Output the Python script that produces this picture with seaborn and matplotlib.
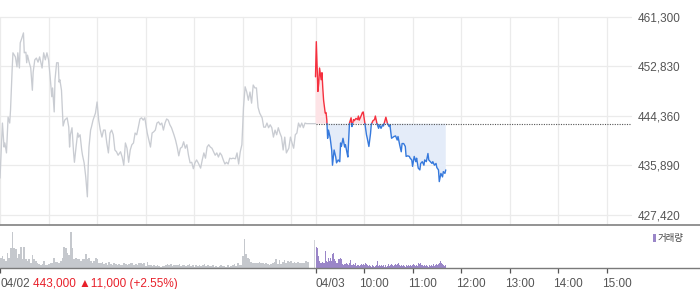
import numpy as np
import pandas as pd
import matplotlib
matplotlib.use("Agg")
import matplotlib.pyplot as plt
import matplotlib.transforms as mtransforms
from matplotlib.lines import Line2D
from matplotlib.patches import Rectangle
import seaborn as sns

# ---------------- data ----------------
PREV_CLOSE = 443000
Y_TICKS = [461300, 452830, 444360, 435890, 427420]
DATE_PREV = "04/02"
DATE_TODAY = "04/03"
PREV_SUMMARY = "443,000 \u25b211,000 (+2.55%)"
HOUR_LABELS = ["10:00", "11:00", "12:00", "13:00", "14:00", "15:00"]
VOLUME_LABEL = "거래량"

# previous day (04/02): minutes after 09:00 and price
prev_minutes = [0, 3, 5, 6, 8, 10, 12, 13, 15, 16, 19, 21, 22, 24, 25, 27, 29, 30, 32, 33,
                34, 36, 38, 40, 41, 43, 45, 47, 49, 52, 54, 56, 58, 60, 62, 64, 65, 67, 68, 70,
                72, 73, 74, 76, 78, 80, 83, 85, 86, 87, 89, 91, 92, 94, 96, 97, 99, 101, 102, 104,
                106, 108, 109, 110, 112, 113, 115, 118, 120, 122, 124, 126, 128,
                130, 132, 134, 136, 138, 140, 142, 144, 146, 149, 151, 153, 155, 157, 159, 161,
                163, 165, 167, 169, 171, 173, 175, 177, 179, 182, 184, 186, 188, 190, 192, 194,
                196, 198, 200, 202, 204, 206, 208, 210, 212, 215, 217, 219, 221, 223, 225, 227,
                229, 231, 233, 235, 237, 239, 241, 243, 245, 248, 250, 252, 254, 256, 258,
                260, 262, 264, 266, 268, 270, 272, 274, 276, 278, 280, 282, 284, 286, 288, 291,
                293, 295, 297, 299, 301, 303, 305, 307, 309, 311, 313, 315, 317, 319, 321, 324,
                326, 328, 330, 332, 334, 336, 338, 340, 342, 344, 346, 348, 350, 352, 354, 357,
                359, 361, 363, 365, 367, 369, 371, 373, 375, 377, 379, 381, 383, 385, 387, 390]
prev_prices = [433700, 443100, 439000, 439700, 438000, 444100, 443100, 445300, 452200, 455100,
               454400, 452700, 455100, 452500, 456800, 457600, 458500, 455100, 455200, 453400,
               454700, 453500, 452500, 448700, 451800, 453900, 454200, 453500, 454400, 452500,
               455100, 453900, 455100, 453900, 451000, 447600, 449100, 445000, 450500, 453400,
               453400, 450100, 450500, 448700, 442600, 443600, 444000, 442400, 439000, 441100,
               442300, 438000, 436400, 439000, 441400, 440700, 441100, 438500, 437600, 436300,
               433900, 430500, 435600, 439000, 441900, 442400, 443600, 444800, 446700, 443600,
               441900, 440700, 441900,
               441900, 439700, 438000, 441400, 441900, 441100, 438500, 438200, 437600, 438200,
               437300, 435900, 439700, 438800, 436400, 438500, 439400, 439700, 441400, 441100,
               442400, 443800, 444000, 443600, 444000, 441400, 440200, 439000, 441400, 441600,
               441900, 443100, 443300, 442800, 443100, 441900, 443100, 443800, 443600, 442800,
               442300, 441100, 440200, 439000, 437500, 438800, 439000, 439900, 438800, 439400,
               437600, 436300, 436400, 435300, 436300, 436800, 436300, 435400, 436800, 438000,
               437100, 439000, 439400,
               439000, 438800, 438200, 437600, 438000, 437300, 438000, 437600, 436800, 436100,
               436400, 436100, 437100, 437000, 437100, 437000, 438000, 436100, 438200, 439400,
               445800, 449300, 448400, 447000, 448400, 446500, 449600, 449100, 449100, 445800,
               444800, 444000, 442400, 442400, 443100, 442300, 442800, 442300, 440700, 441900,
               441100, 442300, 441400, 440700, 438500, 440700, 438000, 438800, 440700, 439700,
               438800, 441100, 441400, 443100, 442400, 443100, 442300, 443100, 443000, 443000,
               443000, 443000, 443000, 443000]

# today (04/03): minutes after 09:00 and price
today_minutes = [0, 1, 3, 4, 5, 7, 8, 9, 10, 12, 13, 14, 15, 16, 18, 20, 21, 23, 25, 26,
                 28, 30, 31, 32, 34, 36, 37, 39, 40, 42, 44, 45, 47, 48, 50, 52, 53, 54, 56, 58,
                 59, 61, 63, 64, 66, 68, 69, 71, 73, 74, 76, 78, 79, 81, 83, 84, 86, 87, 89, 91,
                 92, 94, 96, 97, 99, 101, 102, 104, 106, 107, 109, 111, 112, 114, 116, 117, 119, 120, 122, 124,
                 125, 127, 129, 130, 132, 134, 135, 137, 139, 140, 142, 144, 145, 147, 149, 150, 152, 153, 155, 157,
                 158, 160, 161]
today_prices = [451000, 457000, 448500, 449900, 452500, 450500, 451700, 449100, 447000, 444800,
                444900, 443600, 440500, 441900, 440700, 438500, 435900, 438500, 437300, 436300,
                436800, 436500, 439700, 439100, 440500, 439000, 439400, 438000, 437300, 443100,
                444000, 442500, 443700, 443500, 443900, 443700, 444300, 443600, 444200, 444900,
                445000, 443100, 441100, 440500, 439100, 441300, 442900, 443500, 443700, 444300,
                443000, 442200, 442800, 442200, 442800, 442600, 443600, 444100, 443000, 442500,
                442800, 440500, 440700, 440800, 440900, 440200, 440800, 439400, 438200, 439600,
                439600, 439100, 437400, 437500, 437400, 437100, 436800, 435700, 437400, 436500,
                437100, 435400, 435100, 436200, 436500, 435900, 436800, 436500, 437900, 436800,
                436500, 436200, 436500, 435900, 436200, 435500, 435100, 433100, 434500, 433900,
                434800, 434500, 435100]

# volume (thousand shares), previous day 09:00-15:19 continuous session
prev_volume = [10.7, 12, 9, 7, 15.7, 10.7, 20.7, 36, 20.7, 19,
               10.7, 14, 21.7, 9, 21.7, 9, 7.3, 9, 5.7, 13,
               9.7, 7.3, 5, 4, 3, 4, 7.3, 3, 3, 4,
               5, 5.7, 10.7, 6.3, 6.3, 5.7, 7.3, 10.7, 21.7, 20.7,
               15.7, 13, 36, 20.7, 9, 10.7, 9.7, 9, 7.3, 9.7,
               9, 14, 9, 10.7, 7.3, 5.7, 7.3, 10, 9, 5.7,
               5, 6.3, 4, 5.7, 3, 6.3, 4, 3, 5, 4,
               3, 4, 3, 3, 5, 4, 3, 4, 5, 5.7,
               3, 4, 3, 5, 5.7, 4, 5, 2.3, 6.3, 3,
               3, 2.3, 3, 2.3, 3, 2.3,
               1.7, 2.3, 2.3, 3, 4.7, 3, 4, 2.3, 3, 3,
               3, 4.7, 2.3, 3, 3, 2.3, 3, 4, 2.3, 3,
               1.7, 3, 2.3, 3, 2.3, 3, 4, 2.3, 3, 2.3,
               2.3, 3, 1.7, 2.3, 1.7, 2.3, 3, 2.3, 2.3, 1.7,
               3, 1.7, 2.3, 3, 4, 2.3, 5, 3, 3, 12.3,
               29.7, 14, 10.7, 9, 6.3, 5.7, 5, 5.7, 5, 6.3,
               5, 5.7, 4, 5, 4, 3, 4, 5, 6.3, 9,
               4, 8.3, 4, 6.3, 8.3, 5.7, 7.3, 6.3, 7.3, 5.7,
               6.3, 5, 6.3, 5.7, 5, 5.7, 5, 7.3, 6.3]
prev_close_volume = 28.3          # 15:30 closing auction
# today 09:00-11:40
today_volume = [21.3, 20.7, 12.3, 7.3, 5.7, 5, 6.3, 5.7, 5, 17.3,
                7.3, 6.3, 10.7, 7.3, 10.7, 7.3, 14, 15.7, 9.7, 7.3,
                5.7, 5, 9, 9.7, 10.7, 9, 4, 3, 4, 4,
                5, 4, 3, 5, 8.3, 3, 3, 4, 3, 5.7,
                2.3, 3, 3, 2.3, 3, 4, 3, 4, 3, 5,
                4, 3, 2.3, 3, 2.3, 1.7, 3, 2.3, 1.7, 2.3,
                3, 7.3, 2.3, 3, 2.3, 3, 2.3, 3, 1.7, 3,
                1.7, 2.3, 4, 2.3, 3, 4, 3, 2.3, 3, 4,
                3, 4, 5, 3, 2.3, 3, 2.3, 3, 2.3, 1.7,
                3, 2.3, 3, 2.3, 3, 2.3, 3, 4, 3, 2.3,
                3, 2.3, 5, 4, 5, 3, 3, 2.3, 3, 2.3,
                3, 2.3, 1.7, 3, 2.3, 3, 2.3, 4, 2.3, 3,
                4, 3, 4, 5, 7.3, 5.7, 4, 3, 2.3, 3]
PREV_VOL_END_MIN = 381.5     # 15:21
TODAY_VOL_END_MIN = 160.8    # 11:40

# ---------------- style ----------------
GREY_LINE = "#c9ccd2"
RED = "#f5303e"
BLUE = "#3679dc"
RED_FILL = "#fde3e6"
BLUE_FILL = "#e4ecf9"
GRID = "#ebebeb"
VOL_GREY = "#c5c8cd"
VOL_PURPLE = "#9a86c8"
TXT = "#555555"

sns.set_theme(style="white")
plt.rcParams['font.family'] = ['Liberation Sans', 'DejaVu Sans', 'Noto Sans CJK KR']

W, H = 700, 289
fig = plt.figure(figsize=(W / 100, H / 100), dpi=100)
fig.patch.set_facecolor("white")


def fy(py):
    return 1 - py / H


PLOT_R = 631
ax = fig.add_axes([0, fy(225), PLOT_R / W, (225 - 16.5) / H])
axv = fig.add_axes([0, fy(268.3), PLOT_R / W, (268.3 - 226) / H])

TODAY0 = 390           # today's 09:00 on the shared minute axis
XMAX = 780

# ---- main price panel ----
ax.set_xlim(0, XMAX)
ax.set_ylim(425688, 461300)
vlines = [0, 60, 120, 180, 240, 300, 360, TODAY0] + [TODAY0 + 60 * k for k in range(1, 7)]
ax.set_xticks(vlines)
ax.set_xticklabels([])
ax.set_yticks(Y_TICKS)
ax.set_yticklabels([f"{v:,}" for v in Y_TICKS])
ax.yaxis.tick_right()
ax.tick_params(axis="y", length=0, pad=5, labelsize=8.5, labelcolor=TXT)
ax.tick_params(axis="x", length=0)
ax.grid(True, color=GRID, linewidth=0.9)
for gl in ax.get_xgridlines() + ax.get_ygridlines():
    gl.set_clip_on(False)
ax.set_axisbelow(True)
for s in ax.spines.values():
    s.set_visible(False)
ax.set_xlabel("")
ax.set_ylabel("")

# previous day line
sns.lineplot(x=prev_minutes, y=prev_prices, ax=ax, color=GREY_LINE, linewidth=0.95,
             estimator=None, sort=False, zorder=2)

# today: split at crossings of the previous close
t = TODAY0 + np.asarray(today_minutes, float)
p = np.asarray(today_prices, float)
xs, ys = [t[0]], [p[0]]
for i in range(1, len(p)):
    a, b = p[i - 1] - PREV_CLOSE, p[i] - PREV_CLOSE
    if a * b < 0:
        f = a / (a - b)
        xs.append(t[i - 1] + f * (t[i] - t[i - 1]))
        ys.append(PREV_CLOSE)
    xs.append(t[i])
    ys.append(p[i])
xs = np.array(xs)
ys = np.array(ys)

ax.fill_between(xs, ys, PREV_CLOSE, where=ys >= PREV_CLOSE, interpolate=True,
                color=RED_FILL, linewidth=0, zorder=1)
ax.fill_between(xs, ys, PREV_CLOSE, where=ys <= PREV_CLOSE, interpolate=True,
                color=BLUE_FILL, linewidth=0, zorder=1)

rows = []
seg = 0
prev_up = None
for j in range(len(xs) - 1):
    up = (ys[j] + ys[j + 1]) / 2 >= PREV_CLOSE
    if up != prev_up:
        seg += 1
        rows.append((xs[j], ys[j], seg, up))
        prev_up = up
    rows.append((xs[j + 1], ys[j + 1], seg, up))
df = pd.DataFrame(rows, columns=["t", "p", "seg", "up"])
sns.lineplot(data=df[df.up], x="t", y="p", units="seg", estimator=None, sort=False,
             color=RED, linewidth=1.0, ax=ax, zorder=3)
sns.lineplot(data=df[~df.up], x="t", y="p", units="seg", estimator=None, sort=False,
             color=BLUE, linewidth=1.0, ax=ax, zorder=3)
ax.set_xlabel("")
ax.set_ylabel("")

ax.plot([TODAY0, XMAX], [PREV_CLOSE, PREV_CLOSE], color="#555555", linewidth=0.8,
        linestyle=(0, (1, 1.2)), zorder=4)

# ---- volume panel ----
axv.set_xlim(0, XMAX)
axv.set_ylim(0, 42.3)
pstep = PREV_VOL_END_MIN / len(prev_volume)
prev_vt = np.arange(len(prev_volume)) * pstep
axv.bar(prev_vt, prev_volume, width=pstep, align="edge", color=VOL_GREY, linewidth=0)
axv.bar([TODAY0 - 1.3], [prev_close_volume], width=1.2, align="edge", color="#d3d5d9", linewidth=0)
tstep = TODAY_VOL_END_MIN / len(today_volume)
today_vt = TODAY0 + np.arange(len(today_volume)) * tstep
axv.bar(today_vt, today_volume, width=tstep, align="edge", color=VOL_PURPLE, linewidth=0)
for s in axv.spines.values():
    s.set_visible(False)
axv.set_yticks([])
axv.set_xticks([0, TODAY0] + [TODAY0 + 60 * k for k in range(1, 7)])
axv.set_xticklabels([])
axv.tick_params(axis="x", direction="out", length=3.8, width=0.9, color="#555555", bottom=True)
axv.grid(False)

# full-width separator lines
fig.add_artist(Line2D([0, 1], [fy(225.3), fy(225.3)], transform=fig.transFigure,
                      color="#8a8a8a", linewidth=1.3))
fig.add_artist(Line2D([0, 1], [fy(268.3), fy(268.3)], transform=fig.transFigure,
                      color="#7a7a7a", linewidth=1.0))

# bottom labels
base_y = fy(286.6)
fig.text(0.5 / W, base_y, DATE_PREV, color=TXT, fontsize=8.5, va="baseline", ha="left")
fig.text(33.3 / W, base_y, PREV_SUMMARY, color="#e8202a", fontsize=8.5, va="baseline", ha="left")
blend = mtransforms.blended_transform_factory(axv.transData, fig.transFigure)
fig.text(TODAY0, base_y, DATE_TODAY, color=TXT, fontsize=8.5, va="baseline", ha="left",
         transform=blend)
shift = mtransforms.ScaledTranslation(-5 / 100, 0, fig.dpi_scale_trans)
for k, lab in enumerate(HOUR_LABELS, start=1):
    fig.text(TODAY0 + 60 * k, base_y, lab, color=TXT, fontsize=8.5, va="baseline",
             ha="left", transform=blend + shift)

# volume legend
fig.add_artist(Rectangle((653 / W, fy(242)), 2.8 / W, 8 / H, transform=fig.transFigure,
                         color=VOL_PURPLE, linewidth=0))
fig.text(657.5 / W, fy(238.3), VOLUME_LABEL, color="#444444", fontsize=6.8, va="center",
         ha="left", family=["Noto Sans CJK KR", "DejaVu Sans"])

fig.savefig("out.png", dpi=100, facecolor="white")
